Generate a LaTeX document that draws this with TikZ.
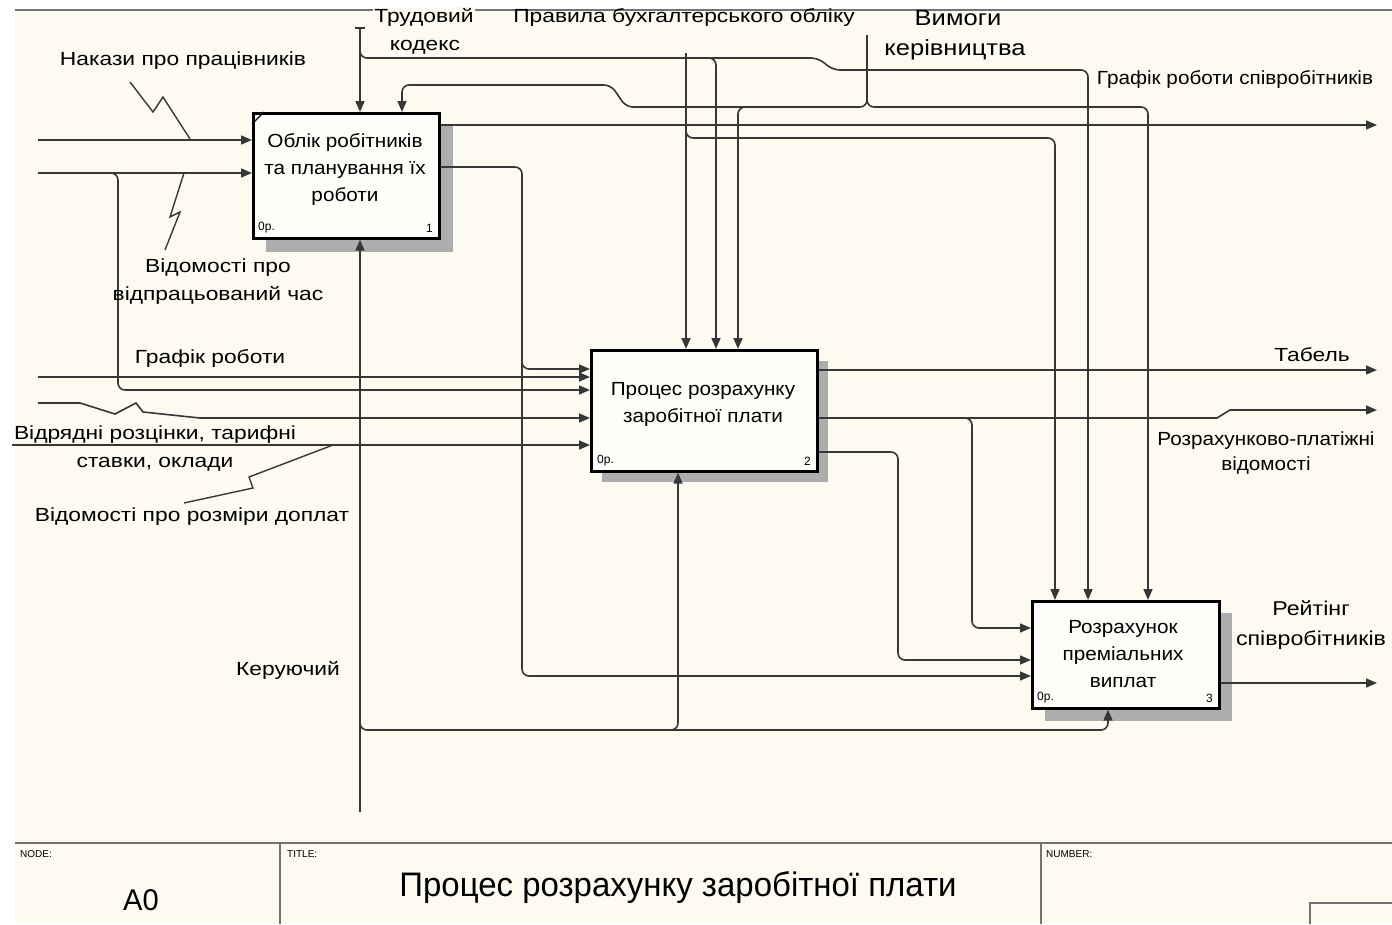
\documentclass[tikz,border=0pt]{standalone}
\usepackage{fontspec}
\setmainfont{Liberation Sans}
\newfontfamily\lblf[FakeStretch=1.2]{Liberation Sans}
\newfontfamily\boxf[FakeStretch=1.09]{Liberation Sans}
\newfontfamily\bigf[FakeStretch=1.16]{Liberation Sans}
\newfontfamily\titf[FakeStretch=0.97]{Liberation Sans}
\usetikzlibrary{arrows.meta,calc}
\definecolor{bg}{RGB}{253,250,240}
\definecolor{ln}{RGB}{55,55,55}
\begin{document}
\begin{tikzpicture}[x=1pt,y=-1pt,
  conn/.style={draw=ln,line width=1.6pt,rounded corners=7pt},
  arr/.style={conn,-{Triangle[length=11pt,width=9pt]}},
  box/.style={draw=black,line width=2.6pt,fill=white!60!bg,anchor=north west,inner sep=0pt},
  lbl/.style={font=\lblf\fontsize{19}{28}\selectfont,inner sep=1pt,align=center},
  nlbl/.style={font=\boxf\fontsize{19}{25}\selectfont,inner sep=1pt,align=center},
  big/.style={font=\bigf\fontsize{22}{32}\selectfont,inner sep=1pt,align=center},
  btxt/.style={font=\boxf\fontsize{19}{27}\selectfont,align=center,inner sep=0pt},
  small/.style={font=\fontsize{12}{13}\selectfont,inner sep=0pt},
  tiny/.style={font=\fontsize{10}{11}\selectfont,inner sep=0pt,anchor=north west},
  zig/.style={draw=ln,line width=1.4pt},
  shadowc/.style={fill=black!32},
  frame/.style={draw=black!55,line width=1.6pt}]
% background
\fill[white] (0,0) rectangle (1392,924);
\fill[bg] (15,10) rectangle (1392,924);
\useasboundingbox (0,0) rectangle (1392,924);
\draw[frame] (15,10) -- (1392,10);
% title block
\draw[frame,line width=2pt] (15,843) -- (1392,843);
\draw[frame] (280,843) -- (280,924);
\draw[frame] (1041,843) -- (1041,924);
\draw[frame] (1310,924) -- (1310,903) -- (1392,903);
\node[tiny] (nodelbl) at (20,850) {NODE:};
\node[tiny] (titlelbl) at (287,850) {TITLE:};
\node[tiny] (numlbl) at (1046,850) {NUMBER:};
\node[font=\titf\fontsize{30}{32}\selectfont,inner sep=0pt] (a0) at (141,900) {A0};
\node[font=\titf\fontsize{34}{36}\selectfont,inner sep=0pt] (ttl) at (678,888) {Процес розрахунку заробітної плати};
% shadows
\fill[shadowc] (266,126) rectangle (453,252);
\fill[shadowc] (602,361) rectangle (828,482);
\fill[shadowc] (1045,613) rectangle (1232,721);
% boxes
\node[box,minimum width=186pt,minimum height=125pt] (b1) at (252,112) {};
\node[box,minimum width=226pt,minimum height=121pt] (b2) at (590,349) {};
\node[box,minimum width=187pt,minimum height=107pt] (b3) at (1031,600) {};
\draw[black,line width=1.4pt] ($(b1.north west)+(0,12)$) -- ($(b1.north west)+(12,0)$);
\node[btxt] (t1) at (345,169) {Облік робітників\\та планування їх\\роботи};
\node[btxt] (t2) at (703,404) {Процес розрахунку\\заробітної плати};
\node[btxt] (t3) at (1123,654) {Розрахунок\\преміальних\\виплат};
\node[small,anchor=south west] (p1) at (258,233) {0р.};
\node[small,anchor=south east] (n1) at (433,233) {1};
\node[small,anchor=south west] (p2) at (597,466) {0р.};
\node[small,anchor=south east] (n2) at (811,466) {2};
\node[small,anchor=south west] (p3) at (1037,703) {0р.};
\node[small,anchor=south east] (n3) at (1213,703) {3};
% inputs of box 1
\coordinate (i1) at (38,140);
\coordinate (i2) at (38,173);
\draw[arr] (i1) -- (i1 -| b1.west);
\draw[arr] (i2) -- (i2 -| b1.west);
\draw[arr] (108,173) -- (118,173) -- (118,390) -- (b2.west |- 118,390);
% inputs of box 2
\coordinate (i3) at (38,377);
\coordinate (i4) at (38,403);
\coordinate (i5) at (12,445);
\draw[arr] (i3) -- (i3 -| b2.west);
\draw[arr,rounded corners=0pt] (i4) -- (80,403) -- (115,414) -- (136,403) -- (143,412) -- (200,418) -- (b2.west |- 200,418);
\draw[arr] (i5) -- (i5 -| b2.west);
% outputs of box 1
\draw[arr] (b1.east |- 0,125) -- (1377,125);
\draw[arr] (b1.east |- 0,167) -- (522,167) -- (522,676) -- (b3.west |- 522,676);
\draw[arr] (522,352) -- (522,369) -- (b2.west |- 522,369);
% controls
\coordinate (tk) at (360,28);
\draw[ln,line width=1.2pt] (355,28) -- (365,28);
\draw[arr] (tk) -- (tk |- b1.north);
\draw[arr] (360,48) -- (360,58) -- (818,58) -- (833,70) -- (1088,70) -- (b3.north -| 1088,70);
\draw[arr] (705,58) -- (716,58) -- (b2.north -| 716,58);
\coordinate (pb) at (686,53);
\draw[arr] (pb) -- (pb |- b2.north);
\draw[arr] (686,126) -- (686,138) -- (1055,138) -- (b3.north -| 1055,138);
\coordinate (vk) at (867,35);
\draw[arr] (vk) -- (867,107) -- (626,107) -- (611,85) -- (402,85) -- (b1.north -| 402,85);
\draw[arr] (867,95) -- (867,107) -- (1148,107) -- (b3.north -| 1148,107);
\draw[arr] (750,107) -- (738,107) -- (b2.north -| 738,107);
% outputs of box 2
\draw[arr] (b2.east |- 0,370) -- (1377,370);
\draw[arr,rounded corners=0pt] (b2.east |- 0,418) -- (1217,418) -- (1230,410) -- (1377,410);
\draw[arr] (960,418) -- (972,418) -- (972,628) -- (b3.west |- 972,628);
\draw[arr] (b2.east |- 0,452) -- (898,452) -- (898,660) -- (b3.west |- 898,660);
% output of box 3
\draw[arr] (b3.east |- 0,683) -- (1377,683);
% mechanisms
\coordinate (mk) at (360,812);
\draw[arr] (mk) -- (mk |- b1.south);
\draw[arr] (360,720) -- (360,730) -- (1108,730) -- (b3.south -| 1108,730);
\draw[arr] (666,730) -- (678,730) -- (b2.south -| 678,730);
% labels
\node[lbl] (lnak) at (183,61) {Накази про працівників};
\draw[zig] (130,82) -- (153,112) -- (163,97) -- (190,139);
\node[lbl] (lvid) at (218,282) {Відомості про\\відпрацьований час};
\draw[zig] (184,173) -- (170,217) -- (180,212) -- (165,250);
\node[lbl] (lgr) at (210,358) {Графік роботи};
\node[lbl] (lvr) at (155,449) {Відрядні розцінки, тарифні\\ставки, оклади};
\node[lbl] (lvd) at (192,517) {Відомості про розміри доплат};
\draw[zig] (333,445) -- (249,477) -- (253,488) -- (184,503);
\node[lbl] (lker) at (288,670) {Керуючий};
\node[lbl,fill=bg] (ltk1) at (424,17) {Трудовий};
\node[lbl] (ltk2) at (425,47) {кодекс};
\node[lbl] (lprav) at (684,18) {Правила бухгалтерського обліку};
\node[big] (lvym1) at (958,18) {Вимоги};
\node[big] (lvym2) at (955,50) {керівництва};
\node[nlbl] (lgrs) at (1235,80) {Графік роботи співробітників};
\node[lbl] (ltab) at (1312,355) {Табель};
\node[nlbl] (lrpv) at (1266,453) {Розрахунково-платіжні\\відомості};
\node[big,font=\bigf\fontsize{20}{30}\selectfont] (lrt) at (1311,625) {Рейтінг\\співробітників};
\end{tikzpicture}
\end{document}
